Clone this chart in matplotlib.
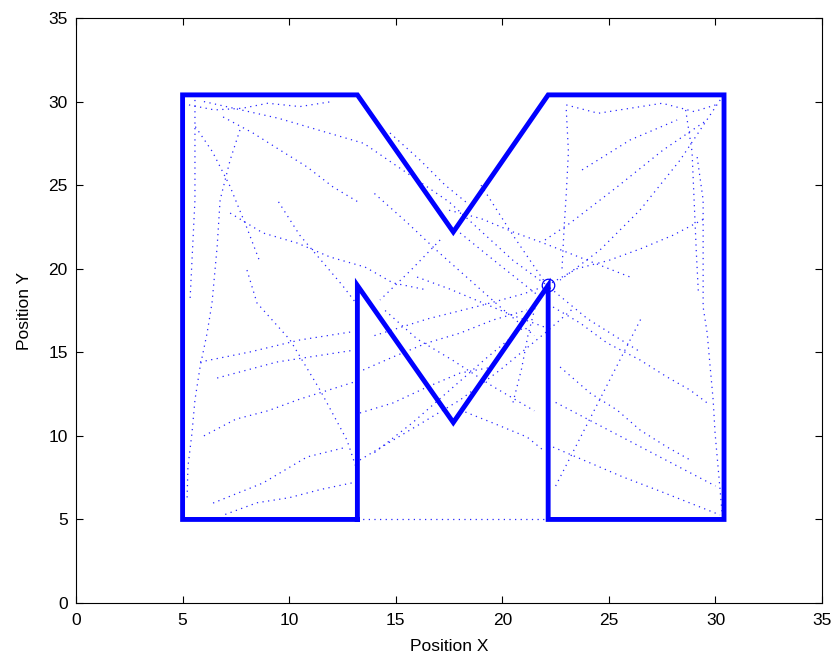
import matplotlib
matplotlib.use('Agg')
import matplotlib.pyplot as plt

plt.rcParams['font.family'] = ['Liberation Sans', 'DejaVu Sans']

# thick M outline (open along the bottom middle)
outline_x = [13.2, 5.0, 5.0, 13.2, 17.7, 22.15, 30.4, 30.4, 22.15, 22.15, 17.7, 13.2, 13.2]
outline_y = [5.0, 5.0, 30.4, 30.4, 22.2, 30.4, 30.4, 5.0, 5.0, 19.0, 10.8, 19.0, 5.0]

# start marker
start_x = 22.15
start_y = 19.0

# dotted trails (x list, y list)
trails = [
    ([6.90, 8.30, 9.57, 10.84, 12.06, 13.32], [29.08, 28.12, 27.10, 26.09, 24.89, 23.93]),
    ([7.23, 8.77, 10.37, 11.92, 13.56, 14.87, 16.47], [23.33, 22.14, 21.54, 20.70, 20.10, 19.15, 18.73]),
    ([7.69, 7.23, 6.76, 6.62, 6.38, 6.15, 5.82, 5.58, 5.44, 5.25, 5.21],
     [28.30, 26.50, 24.11, 21.30, 17.95, 16.15, 14.12, 12.15, 10.17, 8.14, 6.16]),
    ([8.02, 8.49, 10.04, 11.45, 12.71, 13.18], [19.92, 17.95, 15.74, 12.74, 9.75, 7.96]),
    ([5.82, 8.16, 10.51, 12.86], [14.42, 15.02, 15.74, 16.21]),
    ([6.62, 9.43, 12.9], [13.46, 14.42, 15.1]),
    ([6.43, 8.77, 10.84, 12.71], [5.98, 7.18, 8.74, 9.33]),
    ([13.32, 15.67, 18.02, 19.89, 22.0, 23.3], [8.56, 10.35, 12.15, 13.94, 16.15, 17.6]),
    ([22.0, 23.18, 25.38, 27.54, 29.61], [21.72, 22.73, 24.89, 27.10, 28.90]),
    ([23.74, 25.99, 28.20], [25.91, 27.70, 28.90]),
    ([22.38, 23.65, 24.91, 26.46, 27.73, 28.81, 29.61], [17.71, 16.75, 15.56, 14.54, 13.52, 12.74, 11.97]),
    ([22.38, 24.12, 25.66, 27.26, 28.81, 30.21], [9.33, 8.38, 7.54, 6.76, 5.98, 5.27]),
    ([29.14, 29.42, 29.42, 29.61, 29.75, 29.89, 29.98, 30.12, 30.31],
     [26.68, 24.11, 17.71, 16.15, 14.12, 12.15, 10.17, 8.14, 5.38]),
    ([13.47, 14.87, 16.47, 18.02, 19.56, 21.16], [13.94, 14.72, 15.56, 16.15, 16.93, 17.53]),
    ([13.32, 14.87, 16.47, 18.02, 19.56], [11.37, 11.97, 12.92, 13.76, 14.12]),
    ([18.02, 19.56, 21.16, 21.91], [11.55, 10.77, 9.93, 9.15]),
    ([14.73, 16.14, 17.31, 18.35], [28.12, 26.50, 25.01, 23.93]),
    ([13.2, 22.15], [5.05, 5.05]),
    ([18.02, 19.9, 21.77], [22.14, 20.2, 18.31]),
    ([17.08, 15.7, 14.26], [21.72, 19.9, 18.13]),
    ([30.22, 28.34, 26.46, 24.58, 22.71], [30.1, 26.5, 23.51, 21.12, 19.32]),
    ([22.71, 24.12, 25.38, 26.46, 27.73, 28.81], [14.12, 12.56, 11.55, 10.35, 9.33, 8.56]),
    ([5.58, 5.58, 5.35], [30.1, 24.11, 18.13]),
    ([6.0, 9.5, 13.5, 17.5, 20.5, 22.1], [30.0, 29.0, 27.5, 24.0, 20.5, 19.0]),
    ([14.0, 16.5, 19.0, 21.0, 22.1], [16.0, 17.0, 17.8, 18.5, 19.0]),
    ([19.0, 20.5, 22.1, 24.0, 26.5], [25.0, 22.0, 19.0, 17.0, 15.0]),
    ([22.1, 23.5, 25.0, 26.5, 28.0, 29.5], [19.0, 20.0, 20.5, 21.2, 22.0, 23.0]),
    ([20.5, 20.9, 21.2, 21.6], [12.0, 14.0, 16.0, 18.0]),
    # extra trails filling the cloud
    ([5.3, 6.5, 7.8, 9.0, 10.5, 12.0], [29.8, 29.5, 29.6, 29.9, 29.7, 30.0]),
    ([5.6, 6.4, 7.2, 8.0, 8.6], [28.5, 27.0, 25.0, 22.5, 20.5]),
    ([23.0, 24.5, 26.0, 27.5, 29.0, 30.0], [29.8, 29.3, 29.6, 29.9, 29.4, 29.8]),
    ([28.6, 28.9, 29.0, 29.1, 29.2], [29.5, 27.0, 24.0, 21.0, 18.5]),
    ([23.0, 23.1, 23.0, 22.9, 22.8], [29.5, 27.0, 24.5, 22.5, 20.0]),
    ([14.0, 15.5, 17.0, 18.5, 20.0, 21.5], [24.5, 22.8, 21.0, 19.3, 17.6, 16.0]),
    ([16.0, 17.5, 19.0, 20.5, 22.0], [19.5, 18.8, 18.0, 17.2, 16.5]),
    ([14.0, 15.8, 17.5, 19.2, 21.0], [9.0, 10.8, 12.7, 14.6, 16.5]),
    ([14.5, 16.0, 17.7, 19.5, 21.5], [17.5, 15.8, 14.5, 13.0, 11.5]),
    ([17.5, 19.0, 20.5, 22.0, 24.0, 26.0], [23.5, 23.0, 22.2, 21.5, 20.5, 19.5]),
    ([22.5, 24.0, 25.5, 27.0, 28.5, 30.0], [12.0, 11.0, 10.0, 9.0, 8.0, 7.0]),
    ([22.5, 23.5, 24.5, 25.5, 26.5], [7.0, 9.5, 12.0, 14.5, 17.0]),
    ([6.0, 7.5, 9.0, 10.5, 12.0, 13.0], [10.0, 11.0, 11.5, 12.2, 12.8, 13.2]),
    ([7.0, 8.5, 10.0, 11.5, 13.0], [5.3, 6.0, 6.3, 6.8, 7.2]),
    ([9.5, 10.5, 11.5, 12.5, 13.1], [24.0, 22.0, 20.5, 19.0, 18.0]),
]

fig = plt.figure(figsize=(8.38, 6.62), dpi=100)
ax = fig.add_axes([0.0907, 0.0891, 0.8903, 0.8837])

for tx, ty in trails:
    ax.plot(tx, ty, color='blue', linewidth=0.9, linestyle=(0, (1, 3.5)), alpha=0.85)

ax.plot(outline_x, outline_y, color='blue', linewidth=3.5, solid_joinstyle='miter')
ax.plot(start_x, start_y, 'o', markerfacecolor='none', markeredgecolor='blue',
        markersize=9, markeredgewidth=0.9)

ax.set_xlim(0, 35)
ax.set_ylim(0, 35)
ax.set_xticks(range(0, 36, 5))
ax.set_yticks(range(0, 36, 5))
ax.tick_params(direction='in', top=True, right=True, labelsize=12.5, length=5)
ax.tick_params(axis='x', pad=7)
ax.tick_params(axis='y', pad=6)
ax.set_xlabel('Position X', fontsize=12.5, labelpad=8)
ax.set_ylabel('Position Y', fontsize=12.5, labelpad=12)

fig.savefig('out.png', dpi=100)
